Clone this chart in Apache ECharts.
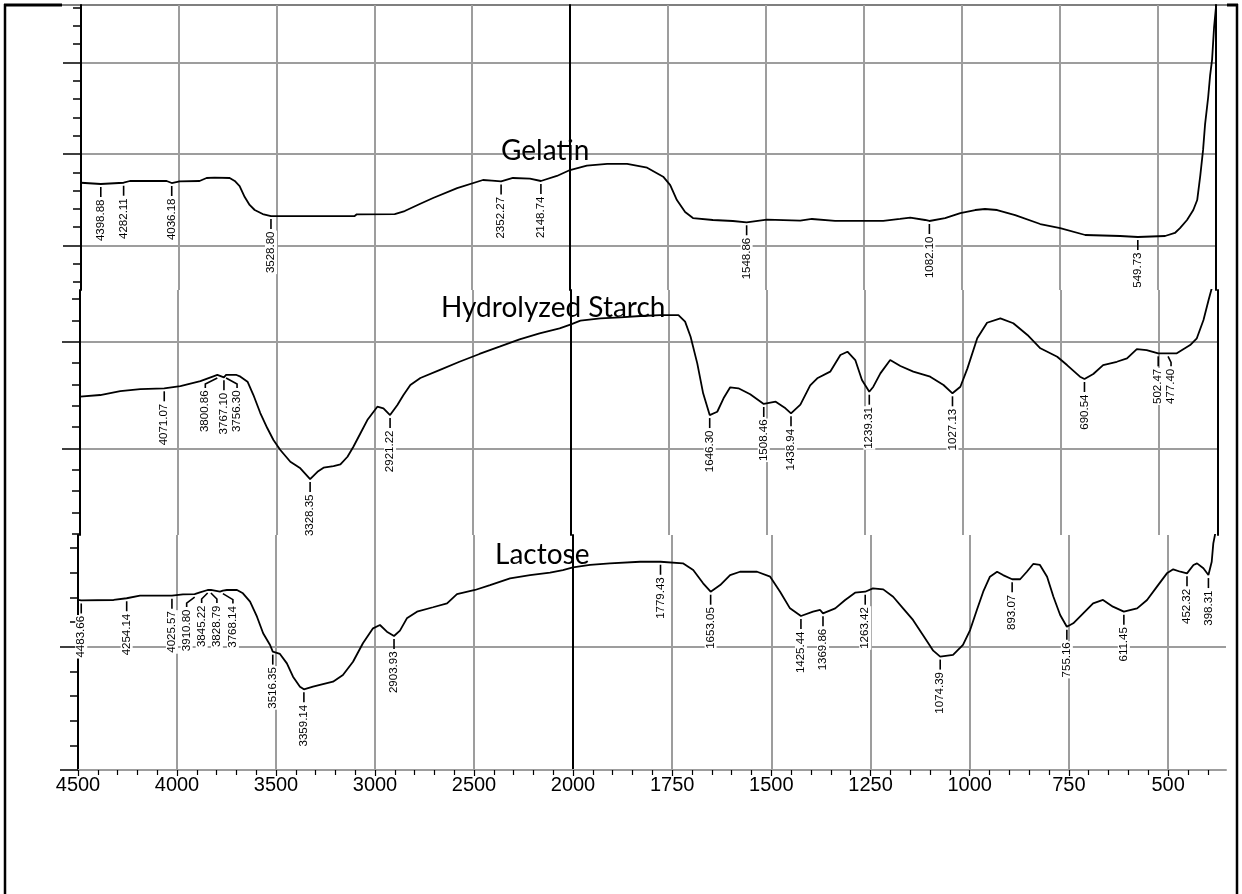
<!DOCTYPE html>
<html><head><meta charset="utf-8">
<script src="https://cdn.jsdelivr.net/npm/echarts@6/dist/echarts.min.js"></script>
<style>html,body{margin:0;padding:0;background:#fff}#c{width:1242px;height:894px}</style>
</head><body><div id="c"></div>
<script>
// ---------- DATA (wavenumber cm-1, transmittance in arbitrary %T per panel) ----------
const gelatinWn = [4500, 4398.88, 4282.11, 4250, 4062, 4036.18, 3996, 3894, 3858, 3817, 3740, 3714, 3689, 3663, 3638, 3612, 3571, 3528.80, 3101, 3090, 2896, 2845, 2768, 2700, 2577, 2445, 2399, 2352.27, 2292, 2205, 2148.74, 2067, 2000, 1957, 1905, 1854, 1803, 1762, 1744, 1727, 1706, 1686, 1635, 1584, 1548.86, 1497, 1412, 1382, 1323, 1200, 1157, 1131, 1093, 1082.10, 1042, 1003, 965, 940, 909, 863, 799, 748, 684, 595, 549.73, 480, 455, 442, 424, 408, 398, 390, 383, 378, 370, 365, 360, 355, 349.5];
const gelatinT = [26.86, 26.72, 26.86, 27.05, 27.05, 26.83, 27.0, 27.05, 27.38, 27.41, 27.38, 27.05, 26.5, 25.3, 24.43, 23.88, 23.44, 23.22, 23.22, 23.41, 23.44, 23.77, 24.54, 25.19, 26.28, 27.16, 27.1, 27.0, 27.38, 27.3, 27.05, 27.6, 28.25, 28.72, 28.91, 28.91, 28.5, 27.52, 26.6, 24.97, 23.66, 23.0, 22.79, 22.68, 22.54, 22.82, 22.73, 22.9, 22.7, 22.7, 22.9, 23.04, 22.79, 22.68, 23.0, 23.55, 23.88, 23.99, 23.88, 23.33, 22.35, 21.91, 21.15, 21.04, 20.93, 21.04, 21.37, 21.9, 22.79, 23.88, 24.97, 27.7, 30.45, 33.2, 36.2, 38.6, 40.3, 43.8, 46.3];
const gelatinPeaks = [4398.88, 4282.11, 4036.18, 3528.80, 2352.27, 2148.74, 1548.86, 1082.10, 549.73];

const starchWn = [4500, 4397, 4295, 4193, 4071.07, 3989, 3887, 3821, 3800.86, 3767.10, 3756.30, 3703, 3683, 3647, 3617, 3582, 3546, 3515, 3480, 3429, 3378, 3328.35, 3291, 3260, 3209, 3174, 3138, 3108, 3072, 3037, 2986, 2955, 2921.22, 2884, 2853, 2818, 2767, 2670, 2568, 2466, 2364, 2262, 2160, 2058, 2000, 1976, 1925, 1874, 1823, 1772, 1726, 1709, 1695, 1678, 1663, 1646.30, 1627, 1611, 1594, 1573, 1543, 1508.46, 1478, 1453, 1438.94, 1415, 1390, 1372, 1339, 1313, 1295, 1275, 1258, 1239.31, 1229, 1211, 1186, 1160, 1127, 1084, 1050, 1027.13, 1007, 989, 964, 939, 905, 872, 836, 803, 760, 735, 702, 690.54, 668, 643, 608, 582, 557, 532, 502.47, 477.40, 455, 421, 404, 387, 374, 366];
const starchT = [24.84, 25.0, 25.37, 25.56, 25.63, 25.84, 26.31, 26.75, 26.88, 26.66, 26.88, 26.88, 26.72, 26.25, 25.0, 23.31, 21.88, 20.78, 19.84, 18.74, 18.12, 17.12, 17.8, 18.18, 18.34, 18.5, 19.21, 20.15, 21.41, 22.65, 23.9, 23.75, 23.12, 24.06, 25.0, 25.94, 26.6, 27.34, 28.12, 28.85, 29.53, 30.22, 30.79, 31.26, 31.63, 31.97, 32.19, 32.29, 32.41, 32.5, 32.5, 31.88, 30.47, 27.97, 25.16, 23.12, 23.43, 24.69, 25.72, 25.63, 25.07, 24.16, 24.37, 23.75, 23.28, 24.1, 25.9, 26.57, 27.19, 28.75, 29.06, 28.28, 26.41, 25.31, 25.78, 27.03, 28.28, 27.72, 27.19, 26.72, 25.94, 25.16, 25.78, 27.5, 30.32, 31.78, 32.19, 31.73, 30.63, 29.38, 28.59, 27.81, 26.72, 26.5, 26.97, 27.81, 28.12, 28.44, 29.31, 29.22, 28.91, 28.91, 28.91, 29.69, 30.32, 32.03, 33.91, 35.0];
const starchPeaks = [4071.07, 3800.86, 3767.10, 3756.30, 3328.35, 2921.22, 1646.30, 1508.46, 1438.94, 1239.31, 1027.13, 690.54, 502.47, 477.40];

const lactoseWn = [4500, 4483.66, 4320, 4313, 4254.14, 4187, 4025.57, 3970, 3910.80, 3884, 3845.22, 3828.79, 3783, 3768.14, 3748, 3697, 3667, 3631, 3596, 3565, 3530, 3516.35, 3480, 3445, 3414, 3379, 3359.14, 3313, 3263, 3212, 3162, 3111, 3061, 3010, 2975, 2940, 2903.93, 2874, 2839, 2788, 2707, 2636, 2586, 2495, 2419, 2318, 2217, 2116, 2051, 2000, 1957, 1907, 1831, 1779.43, 1723, 1697, 1672, 1653.05, 1629, 1604, 1579, 1536, 1503, 1478, 1453, 1425.44, 1395, 1377, 1369.86, 1339, 1314, 1289, 1263.42, 1244, 1218, 1193, 1168, 1143, 1118, 1092, 1074.39, 1042, 1017, 999, 982, 966, 949, 931, 916, 893.07, 873, 856, 840, 823, 805, 789, 772, 755.16, 739, 714, 689, 664, 639, 611.45, 578, 553, 528, 503, 487, 469, 452.32, 436, 427, 411, 398.31, 390, 386, 381];
const lactoseT = [23.79, 23.75, 23.79, 23.93, 23.93, 24.14, 24.14, 24.25, 24.27, 24.41, 24.6, 24.6, 24.46, 24.55, 24.6, 24.6, 24.33, 23.65, 22.43, 21.09, 20.14, 19.6, 19.41, 18.65, 17.57, 16.76, 16.54, 16.76, 16.97, 17.16, 17.7, 18.78, 20.28, 21.49, 21.76, 21.22, 20.87, 21.3, 22.3, 22.84, 23.2, 23.52, 24.27, 24.6, 25.0, 25.55, 25.81, 26.0, 26.22, 26.44, 26.63, 26.76, 26.89, 26.89, 26.76, 26.22, 25.14, 24.46, 25.0, 25.81, 26.08, 26.08, 25.68, 24.46, 23.11, 22.49, 22.84, 22.98, 22.71, 23.11, 23.79, 24.38, 24.46, 24.73, 24.65, 24.05, 23.11, 22.17, 20.95, 19.68, 19.2, 19.33, 20.14, 21.35, 22.98, 24.46, 25.68, 26.08, 25.81, 25.47, 25.47, 26.08, 26.71, 26.63, 25.68, 24.05, 22.57, 21.62, 21.9, 22.71, 23.52, 23.79, 23.25, 22.84, 23.11, 23.79, 24.87, 25.95, 26.28, 26.08, 25.95, 26.63, 26.76, 26.36, 25.81, 26.89, 28.38, 29.2];
const lactosePeaks = [4483.66, 4254.14, 4025.57, 3910.80, 3845.22, 3828.79, 3768.14, 3516.35, 3359.14, 2903.93, 1779.43, 1653.05, 1425.44, 1369.86, 1263.42, 1074.39, 893.07, 755.16, 611.45, 452.32, 398.31];

const sampleNames = ['Gelatin', 'Hydrolyzed Starch', 'Lactose'];
const leftTickValues = [4500, 4000, 3500, 3000, 2500, 2000];
const rightTickValues = [1750, 1500, 1250, 1000, 750, 500];

// ---------- LAYOUT / STYLE ----------
const labelShift = { '3800.86': -12, '3756.30': 11, '3910.80': -8, '3845.22': -6, '3828.79': 6, '3768.14': 10, '477.40': 3 };
const GRAY = '#9d9d9d', BLACK = '#000';
const panels = [
  { name: sampleNames[0], wn: gelatinWn, t: gelatinT, peaks: gelatinPeaks,
    top: 5, bottom: 290, xl: 81, xm: 570, xr: 1216, rmin: 350,
    ymin: 15.14, ymax: 46.28, majors: [20, 30, 40], rightLine: true, showX: false, title: [501, 137] },
  { name: sampleNames[1], wn: starchWn, t: starchT, peaks: starchPeaks,
    top: 290, bottom: 535, xl: 80, xm: 571, xr: 1218, rmin: 350,
    ymin: 11.87, ymax: 34.85, majors: [20, 30], rightLine: true, showX: false, title: [441, 293.5] },
  { name: sampleNames[2], wn: lactoseWn, t: lactoseT, peaks: lactosePeaks,
    top: 535, bottom: 770, xl: 78, xm: 573, xr: 1226, rmin: 354,
    ymin: 10, ymax: 29.06, majors: [10, 20], rightLine: false, showX: true, title: [495, 540.5] }
];
const axisLabelStyle = { fontFamily: 'Liberation Sans, Arial', fontSize: 20, color: '#000', margin: 5,
  formatter: v => String(v) };

const grids = [], xAxes = [], yAxes = [], series = [], graphics = [];

function renderPeak(labels) {
  return function (params, api) {
    const w = api.value(0), v = api.value(1), dx = api.value(2);
    const pt = api.coord([w, v]);
    const x = pt[0], y = pt[1];
    const pts = dx ? [[x, y + 3], [x + dx, y + 9], [x + dx, y + 13]] : [[x, y + 3], [x, y + 13]];
    return { type: 'group', children: [
      { type: 'polyline', shape: { points: pts }, style: { stroke: BLACK, lineWidth: 1.6, fill: null } },
      { type: 'text', x: x + dx, y: y + 14.5, rotation: Math.PI / 2,
        style: { text: labels[params.dataIndex], align: 'right', verticalAlign: 'middle', fontSize: 11.5,
          fontFamily: 'Liberation Sans, Arial', fill: BLACK, backgroundColor: '#fff', padding: [0, 1] } }
    ]};
  };
}

panels.forEach(p => {
  const segs = [
    { side: 'L', left: p.xl, width: p.xm - p.xl, min: 2000, max: 4500 },
    { side: 'R', left: p.xm, width: p.xr - p.xm, min: p.rmin, max: 2000 }
  ];
  const minorsY = [];
  for (let v = Math.ceil(p.ymin / 2) * 2; v <= p.ymax; v += 2) if (v % 10 !== 0) minorsY.push(v);
  segs.forEach(s => {
    const gi = grids.length;
    grids.push({ left: s.left, top: p.top, width: s.width, height: p.bottom - p.top, outerBoundsMode: 'none' });
    const xi = xAxes.length;
    const xa = { type: 'value', gridIndex: gi, inverse: true, min: s.min, max: s.max, position: 'bottom',
      axisLine: { show: p.showX, onZero: false, lineStyle: { color: GRAY, width: 2 } },
      axisTick: { show: p.showX, length: 6, lineStyle: { color: BLACK, width: 1.2 } },
      axisLabel: Object.assign({ show: p.showX }, axisLabelStyle),
      splitLine: { show: true, lineStyle: { color: GRAY, width: 2 } } };
    if (s.side === 'L') {
      xa.interval = 500;
      xa.minorTick = { show: p.showX, splitNumber: 5, length: 5, lineStyle: { color: BLACK, width: 1.2 } };
      xa.splitLine.showMinLine = false; xa.splitLine.showMaxLine = false;
    } else {
      xa.axisTick.customValues = rightTickValues;
      xa.axisLabel.customValues = rightTickValues;
    }
    xAxes.push(xa);
    if (s.side === 'R' && p.showX) {
      const mv = [];
      for (let v = 400; v < 2000; v += 50) if (v % 250 !== 0 && v >= s.min) mv.push(v);
      xAxes.push({ type: 'value', gridIndex: gi, inverse: true, min: s.min, max: s.max, position: 'bottom',
        axisLine: { show: false }, axisLabel: { show: false }, splitLine: { show: false },
        axisTick: { show: true, customValues: mv, length: 5, lineStyle: { color: BLACK, width: 1.2 } } });
    }
    const yi = yAxes.length;
    if (s.side === 'L') {
      yAxes.push({ type: 'value', gridIndex: gi, position: 'left', min: p.ymin, max: p.ymax,
        axisLine: { show: true, onZero: false, lineStyle: { color: BLACK, width: 2 } },
        axisTick: { show: true, customValues: p.majors, length: 18, lineStyle: { color: BLACK, width: 1.5 } },
        axisLabel: { show: false }, splitLine: { show: true, lineStyle: { color: GRAY, width: 2 } } });
      yAxes.push({ type: 'value', gridIndex: gi, position: 'left', min: p.ymin, max: p.ymax,
        axisLine: { show: false }, axisLabel: { show: false }, splitLine: { show: false },
        axisTick: { show: true, customValues: minorsY, length: 8, lineStyle: { color: BLACK, width: 1.5 } } });
    } else {
      yAxes.push({ type: 'value', gridIndex: gi, position: 'left', min: p.ymin, max: p.ymax,
        axisLine: { show: true, onZero: false, lineStyle: { color: BLACK, width: 2 } },
        axisTick: { show: false, customValues: p.majors }, axisLabel: { show: false },
        splitLine: { show: true, lineStyle: { color: GRAY, width: 2 } } });
      yAxes.push({ type: 'value', gridIndex: gi, position: 'right', min: p.ymin, max: p.ymax,
        axisLine: { show: p.rightLine, onZero: false, lineStyle: { color: BLACK, width: 2 } },
        axisTick: { show: false }, axisLabel: { show: false }, splitLine: { show: false } });
    }
    const inSeg = w => s.side === 'L' ? w >= 2000 : w <= 2000;
    const pts = p.wn.map((w, i) => [w, p.t[i]]).filter(d => inSeg(d[0]));
    series.push({ type: 'line', name: p.name, xAxisIndex: xi, yAxisIndex: yi, data: pts, symbol: 'none',
      showSymbol: false, silent: true, z: 3, lineStyle: { color: BLACK, width: 1.8 } });
    const pk = p.peaks.filter(w => s.side === 'L' ? w > 2000 : w < 2000);
    const labels = pk.map(w => w.toFixed(2));
    const pkData = pk.map(w => {
      let best = 0;
      p.wn.forEach((x, i) => { if (Math.abs(x - w) < Math.abs(p.wn[best] - w)) best = i; });
      return [w, p.t[best], labelShift[w.toFixed(2)] || 0];
    });
    series.push({ type: 'custom', xAxisIndex: xi, yAxisIndex: yi, data: pkData, z: 4, clip: false, silent: true,
      renderItem: renderPeak(labels) });
  });
  graphics.push({ type: 'text', x: p.title[0], y: p.title[1], z: 10,
    style: { text: p.name, fontFamily: 'Lato, Open Sans, sans-serif', fontSize: 28, fill: '#000', align: 'left', verticalAlign: 'top' } });
});

// frame
graphics.push(
  { type: 'line', shape: { x1: 5, y1: 4, x2: 5, y2: 894 }, style: { stroke: BLACK, lineWidth: 2.5 } },
  { type: 'line', shape: { x1: 1237, y1: 4, x2: 1237, y2: 894 }, style: { stroke: BLACK, lineWidth: 2.5 } },
  { type: 'line', shape: { x1: 5, y1: 5, x2: 1237, y2: 5 }, style: { stroke: BLACK, lineWidth: 1.2 } },
  { type: 'line', shape: { x1: 4, y1: 5, x2: 62, y2: 5 }, style: { stroke: BLACK, lineWidth: 3 } },
  { type: 'line', shape: { x1: 1227, y1: 5, x2: 1238, y2: 5 }, style: { stroke: BLACK, lineWidth: 3 } }
);

const chart = echarts.init(document.getElementById('c'), null, { renderer: 'canvas' });
chart.setOption({ animation: false, backgroundColor: '#fff', grid: grids, xAxis: xAxes, yAxis: yAxes, series: series, graphic: graphics });
</script></body></html>
